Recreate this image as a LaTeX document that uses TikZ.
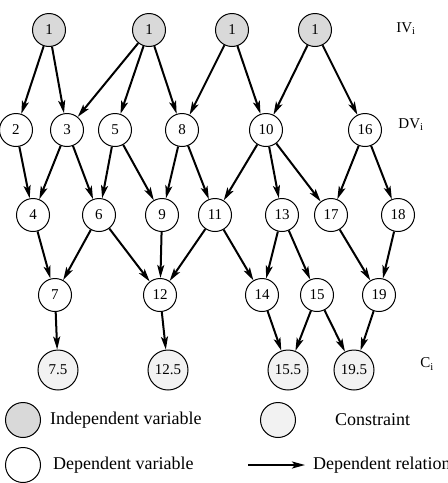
\documentclass[tikz,border=0pt]{standalone}
\usepackage{fontspec}
\setmainfont{Liberation Serif}
\usetikzlibrary{arrows.meta}
\definecolor{ivFill}{HTML}{D9D9D9}
\definecolor{cFill}{HTML}{F2F2F2}
\tikzset{
  varnode/.style={draw, circle, line width=1pt, minimum size=33pt, inner sep=0pt,
    font=\fontsize{15}{15}\selectfont},
  ivnode/.style={varnode, fill=ivFill},
  dvnode/.style={varnode, fill=white},
  cnode/.style={varnode, fill=cFill, minimum size=40pt},
  legnode/.style={draw, circle, line width=1pt, minimum size=35pt, inner sep=0pt},
  rel/.style={-{Stealth[length=13pt, width=7pt, inset=3pt]}, line width=2pt},
  lvl/.style={font=\fontsize{15}{15}\selectfont},
  legtext/.style={font=\fontsize{18}{18}\selectfont, anchor=west, inner sep=0pt}
}
\begin{document}
\begin{tikzpicture}[x=1pt, y=-1pt]
  \useasboundingbox (0,0) rectangle (448,483);
  % independent variables
  \node[ivnode] (iva) at (49,30) {1};
  \node[ivnode] (ivb) at (149,30) {1};
  \node[ivnode] (ivc) at (232,30) {1};
  \node[ivnode] (ivd) at (315,30) {1};
  % dependent variables
  \node[dvnode] (d2) at (16,130) {2};
  \node[dvnode] (d3) at (67,130) {3};
  \node[dvnode] (d5) at (115,130) {5};
  \node[dvnode] (d8) at (182,130) {8};
  \node[dvnode] (d10) at (266,130) {10};
  \node[dvnode] (d16) at (365,130) {16};
  \node[dvnode] (d4) at (33,215) {4};
  \node[dvnode] (d6) at (99,215) {6};
  \node[dvnode] (d9) at (162,215) {9};
  \node[dvnode] (d11) at (215,215) {11};
  \node[dvnode] (d13) at (282,215) {13};
  \node[dvnode] (d17) at (331,215) {17};
  \node[dvnode] (d18) at (398,215) {18};
  \node[dvnode] (d7) at (55,295) {7};
  \node[dvnode] (d12) at (160,295) {12};
  \node[dvnode] (d14) at (262,295) {14};
  \node[dvnode] (d15) at (317,295) {15};
  \node[dvnode] (d19) at (379,295) {19};
  % constraints
  \node[cnode] (c75) at (58,370) {7.5};
  \node[cnode] (c125) at (168,370) {12.5};
  \node[cnode] (c155) at (288,370) {15.5};
  \node[cnode] (c195) at (354,370) {19.5};
  % level labels
  \node[lvl] (ivlab) at (406,29) {IV\textsubscript{i}};
  \node[lvl] (dvlab) at (411,125) {DV\textsubscript{i}};
  \node[lvl] (clab) at (427,364) {C\textsubscript{i}};
  % relations
  \foreach \a/\b in {iva/d2, iva/d3, ivb/d3, ivb/d5, ivb/d8, ivc/d8, ivc/d10,
      ivd/d10, ivd/d16, d2/d4, d3/d4, d3/d6, d5/d6, d5/d9, d8/d9, d8/d11,
      d10/d11, d10/d13, d10/d17, d16/d17, d16/d18, d4/d7, d6/d7, d6/d12,
      d9/d12, d11/d12, d11/d14, d13/d14, d13/d15, d17/d19, d18/d19,
      d7/c75, d12/c125, d14/c155, d15/c155, d15/c195, d19/c195}
    \draw[rel] (\a) -- (\b);
  % legend
  \node[legnode, fill=ivFill] (legiv) at (23,420) {};
  \node[legtext] (legivtext) at (50,420) {Independent variable};
  \node[legnode, fill=cFill] (legc) at (278,420) {};
  \node[legtext] (legctext) at (335,420) {Constraint};
  \node[legnode, fill=white] (legdv) at (23,465) {};
  \node[legtext] (legdvtext) at (53,465) {Dependent variable};
  \coordinate (legra) at (248,465);
  \coordinate (legrb) at (305,465);
  \draw[rel] (legra) -- (legrb);
  \node[legtext] (legrtext) at (313,465) {Dependent relation};
\end{tikzpicture}
\end{document}
